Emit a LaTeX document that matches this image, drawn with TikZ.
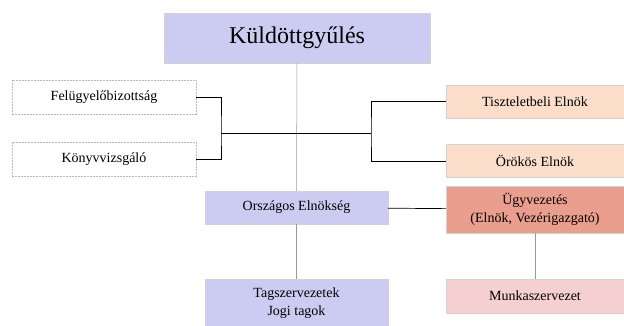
\documentclass[tikz,border=0pt]{standalone}
\usepackage{fontspec}
\setmainfont{Liberation Serif}
\usetikzlibrary{positioning}
\definecolor{lav}{RGB}{204,204,242}
\definecolor{peach}{RGB}{250,222,202}
\definecolor{salmon}{RGB}{234,158,142}
\definecolor{rose}{RGB}{246,208,208}
\begin{document}
\begin{tikzpicture}[x=1pt,y=1pt,
        box/.style={inner sep=0pt,align=center,draw=gray!35,font=\fontsize{14}{18}\selectfont},
        white/.style={box,fill=white,draw=gray!55,dash pattern=on 2pt off 1pt,minimum width=184pt,minimum height=34pt},
        side/.style={box,minimum width=178pt,minimum height=33pt},
        mid/.style={box,fill=lav,minimum width=183pt,minimum height=33pt},
        link/.style={draw=black,line width=0.7pt},
        stem/.style={draw=gray!80,line width=0.5pt}]
        \useasboundingbox (0,0) rectangle (624,325);
        \node[box, fill=lav, minimum width=266pt, minimum height=50pt, font=\fontsize{24}{28}\selectfont] (kgy) at (297,287) {Küldöttgyűlés};
        \node[white] (fb) at (104,228) {Felügyelőbizottság};
        \node[white, below=28pt of fb] (kv) {Könyvvizsgáló};
        \node[side, fill=peach] (tisz) at (535,223.5) {Tiszteletbeli Elnök};
        \node[side, fill=peach, below=26pt of tisz] (orok) {Örökös Elnök};
        \node[side, fill=salmon, minimum height=47pt, below=8pt of orok] (ugy) {Ügyvezetés\\(Elnök, Vezérigazgató)};
        \node[side, fill=rose, minimum height=34pt, below=46pt of ugy] (munka) {Munkaszervezet};
        \node[mid] (orsz) at (296.5,117.5) {Országos Elnökség};
        \node[mid, minimum height=48pt, below=55pt of orsz] (tag) {Tagszervezetek\\Jogi tagok};
        % junctions of the two brackets
        \coordinate (lj) at (221,192);
        \coordinate (rj) at (371,192);
        \draw[stem] (kgy) -- (orsz);
        \draw[stem] (orsz) -- (tag);
        \draw[stem] (ugy) -- (munka);
        \draw[link] (lj) -- (rj);
        \draw[link] (fb.east) -| (lj) |- (kv.east);
        \draw[link] (tisz.west) -| (rj) |- (orok.west);
        \draw[link] (orsz) -- (ugy);
\end{tikzpicture}
\end{document}
